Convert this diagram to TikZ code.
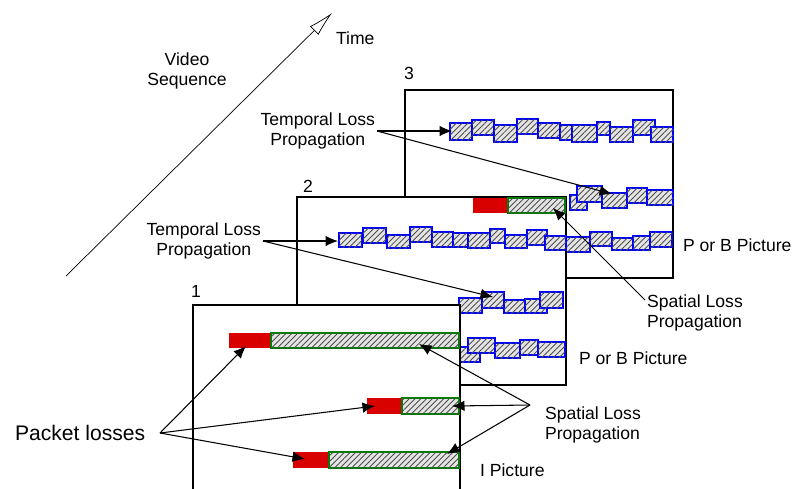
\documentclass[tikz,border=0pt]{standalone}
\usepackage{fontspec}
\setmainfont{Liberation Sans}
\usetikzlibrary{arrows.meta, patterns, patterns.meta, positioning, calc}

\tikzset{
  frame/.style={draw, line width=1pt, fill=white},
  lossbar/.style={fill=red!85!black},
  hatch/.style={fill=gray!20, postaction={pattern={Lines[angle=45, distance=2.3pt, line width=0.5pt]}, pattern color=black!70}},
  blk/.style={hatch, draw=blue, line width=0.8pt},
  prop/.style={hatch, draw=green!50!black, line width=0.8pt},
  lbl/.style={font=\fontsize{10}{11.5}\selectfont, align=center, inner sep=1pt},
  arr/.style={-{Latex[length=2.5mm, width=2.1mm]}, semithick},
}

\begin{document}
\begin{tikzpicture}[x=0.2mm, y=-0.2mm]
  \clip (0,0) rectangle (802,488);

  % Asse del tempo
  \coordinate (t0) at (66,276);
  \coordinate (t1) at (332,13);
  \draw[thin, -{Latex[open, length=5mm, width=2.4mm]}] (t0) -- (t1);
  \node[lbl, anchor=west] (time) at (334,38) {Time};
  \node[lbl] (seq) at (187,71) {Video\\Sequence};

  % Immagine 3
  \draw[frame] (405,90) rectangle (673,278);
  \node[lbl] (n3) at (409,73) {3};
  \foreach \xa/\xb/\ya/\yb in {450/472/123/140, 472/494/120/135, 494/517/125/142,
      517/538/119/134, 538/560/123/138, 560/572/125/140, 572/597/125/142,
      597/610/122/135, 610/633/127/142, 633/655/120/135, 651/673/127/142,
      570/587/195/210, 577/602/186/202, 602/627/193/208, 627/647/188/203,
      647/673/190/205,
      566/590/237/252, 590/612/232/246, 612/633/238/250, 633/650/236/250,
      650/672/232/247}
    \path[blk] (\xa,\ya) rectangle (\xb,\yb);

  % Immagine 2
  \draw[frame] (297,197) rectangle (566,385);
  \node[lbl] (n2) at (308,186) {2};
  \path[lossbar] (473,198) rectangle (508,213);
  \path[prop] (508,198) rectangle (565,213);
  \foreach \xa/\xb/\ya/\yb in {339/362/233/247, 363/386/228/243, 387/410/235/248,
      410/432/227/242, 432/453/232/247, 453/468/233/247, 468/490/233/248,
      490/505/229/243, 505/527/235/248, 527/547/230/245, 545/566/236/250,
      459/482/298/313, 482/504/292/308, 504/525/300/313, 525/547/299/313,
      540/563/292/308,
      459/480/347/362, 468/495/338/353, 495/520/343/358, 520/538/340/355,
      538/565/342/357}
    \path[blk] (\xa,\ya) rectangle (\xb,\yb);

  % Immagine 1
  \draw[frame] (193,305) rectangle (460,500);
  \node[lbl] (n1) at (196,291) {1};
  \path[lossbar] (229,333) rectangle (271,348);
  \path[prop] (271,333) rectangle (459,348);
  \path[lossbar] (367,398) rectangle (402,414);
  \path[prop] (402,398) rectangle (459,414);
  \path[lossbar] (293,452) rectangle (329,468);
  \path[prop] (329,452) rectangle (459,468);

  % Etichette
  \node[lbl, anchor=east] (tup) at (377,131) {Temporal Loss\\Propagation};
  \node[lbl, anchor=east] (tlo) at (263,241) {Temporal Loss\\Propagation};
  \node[lbl, anchor=west] (pb3) at (681,245) {P or B Picture};
  \node[lbl, anchor=west] (pb2) at (577,358) {P or B Picture};
  \node[lbl, anchor=west, align=left] (sup) at (645,313) {Spatial Loss\\Propagation};
  \node[lbl, anchor=west, align=left] (slo) at (543,425) {Spatial Loss\\Propagation};
  \node[lbl, anchor=west] (ipic) at (478,470) {I Picture};
  \node[lbl, anchor=west, font=\fontsize{12}{14}\selectfont] (pl) at (13,433) {Packet losses};

  % Punti di partenza
  \coordinate (tupf) at (377,131);
  \coordinate (tlof) at (263,241);
  \coordinate (plf) at (160,433);
  \coordinate (slof) at (530,405);
  \coordinate (supf) at (645,300);

  % Punti di arrivo
  \coordinate (row3a) at (452,131);
  \coordinate (row3b) at (612,194);
  \coordinate (row2a) at (338,241);
  \coordinate (row2b) at (493,297);
  \coordinate (lossA) at (246,346);
  \coordinate (lossB) at (375,406);
  \coordinate (lossC) at (305,459);
  \coordinate (propA) at (419,344);
  \coordinate (propB) at (452,406);
  \coordinate (propC) at (447,454);
  \coordinate (prop2) at (553,208);

  % Frecce
  \draw[arr] (tupf) -- (row3a);
  \draw[arr] (tupf) -- (row3b);
  \draw[arr] (tlof) -- (row2a);
  \draw[arr] (tlof) -- (row2b);
  \draw[arr] (plf) -- (lossA);
  \draw[arr] (plf) -- (lossB);
  \draw[arr] (plf) -- (lossC);
  \draw[arr] (slof) -- (propA);
  \draw[arr] (slof) -- (propB);
  \draw[arr] (slof) -- (propC);
  \draw[arr] (supf) -- (prop2);
\end{tikzpicture}
\end{document}
